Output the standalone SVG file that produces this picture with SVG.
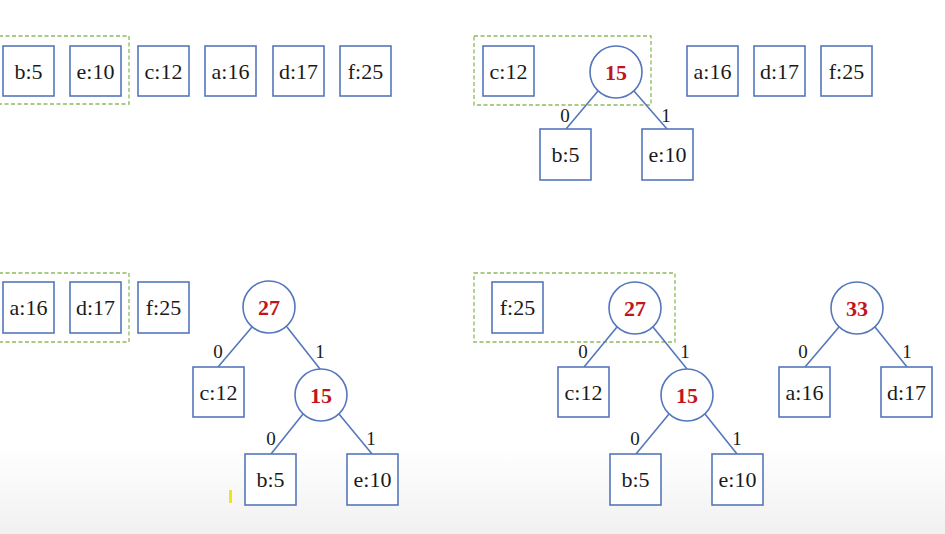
<svg xmlns="http://www.w3.org/2000/svg" width="945" height="534" viewBox="0 0 945 534">
<defs>
<linearGradient id="bg" x1="0" y1="0" x2="0" y2="1">
<stop offset="0" stop-color="#ffffff"/>
<stop offset="1" stop-color="#f1f1f1"/>
</linearGradient>
<style>
.box{fill:#ffffff;stroke:#5577bb;stroke-width:1.6}
.circ{fill:#ffffff;stroke:#5577bb;stroke-width:1.6}
.edge{stroke:#5577bb;stroke-width:1.6;fill:none}
.dash{fill:none;stroke:#8dbb5e;stroke-width:1.3;stroke-dasharray:4 2.5}
.t{font-family:"Liberation Serif","Times New Roman",serif;font-size:22px;fill:#1a1a1a;text-anchor:middle}
.n{font-family:"Liberation Serif","Times New Roman",serif;font-size:22px;font-weight:bold;fill:#c0161c;text-anchor:middle}
.l{font-family:"Liberation Serif","Times New Roman",serif;font-size:19px;fill:#1a1a1a;text-anchor:middle}
</style>
</defs>
<rect x="0" y="0" width="945" height="534" fill="#ffffff"/>
<rect x="0" y="445" width="945" height="89" fill="url(#bg)"/>

<g id="groups">
<rect class="dash" x="-1" y="36" width="130" height="68"/>
<rect class="dash" x="474" y="36" width="177" height="69"/>
<rect class="dash" x="-1" y="273" width="130" height="69"/>
<rect class="dash" x="474" y="273" width="201" height="69"/>
</g>

<g id="connectors">
<line class="edge" x1="598" y1="91" x2="566" y2="129"/>
<line class="edge" x1="634" y1="91" x2="667" y2="129"/>
<line class="edge" x1="252" y1="327" x2="218" y2="367"/>
<line class="edge" x1="287" y1="327" x2="320" y2="369"/>
<line class="edge" x1="303" y1="414" x2="271" y2="454"/>
<line class="edge" x1="339" y1="414" x2="372" y2="454"/>
<line class="edge" x1="617" y1="327" x2="584" y2="367"/>
<line class="edge" x1="653" y1="327" x2="687" y2="369"/>
<line class="edge" x1="669" y1="414" x2="636" y2="454"/>
<line class="edge" x1="705" y1="414" x2="737" y2="454"/>
<line class="edge" x1="839" y1="327" x2="805" y2="367"/>
<line class="edge" x1="875" y1="327" x2="907" y2="367"/>
<text class="l" x="565" y="122">0</text>
<text class="l" x="666" y="122">1</text>
<text class="l" x="218" y="358">0</text>
<text class="l" x="320" y="358">1</text>
<text class="l" x="271" y="445">0</text>
<text class="l" x="371" y="445">1</text>
<text class="l" x="583" y="358">0</text>
<text class="l" x="685" y="358">1</text>
<text class="l" x="635" y="445">0</text>
<text class="l" x="737" y="445">1</text>
<text class="l" x="803" y="358">0</text>
<text class="l" x="907" y="358">1</text>
</g>

<!-- Step 1 -->
<g id="s1-b5"><rect class="box" x="3" y="46" width="51" height="50"/><text class="t" x="28.5" y="78.5">b:5</text></g>
<g id="s1-e10"><rect class="box" x="70" y="46" width="51" height="50"/><text class="t" x="95.5" y="78.5">e:10</text></g>
<g id="s1-c12"><rect class="box" x="138" y="46" width="51" height="50"/><text class="t" x="163.5" y="78.5">c:12</text></g>
<g id="s1-a16"><rect class="box" x="205" y="46" width="51" height="50"/><text class="t" x="230.5" y="78.5">a:16</text></g>
<g id="s1-d17"><rect class="box" x="273" y="46" width="51" height="50"/><text class="t" x="298.5" y="78.5">d:17</text></g>
<g id="s1-f25"><rect class="box" x="340" y="46" width="51" height="50"/><text class="t" x="365.5" y="78.5">f:25</text></g>

<!-- Step 2 -->
<g id="s2-c12"><rect class="box" x="483" y="46" width="51" height="50"/><text class="t" x="508.5" y="78.5">c:12</text></g>
<g id="s2-n15"><circle class="circ" cx="616" cy="72" r="26"/><text class="n" x="616" y="79.5">15</text></g>
<g id="s2-a16"><rect class="box" x="687" y="46" width="51" height="50"/><text class="t" x="712.5" y="78.5">a:16</text></g>
<g id="s2-d17"><rect class="box" x="754" y="46" width="51" height="50"/><text class="t" x="779.5" y="78.5">d:17</text></g>
<g id="s2-f25"><rect class="box" x="821" y="46" width="51" height="50"/><text class="t" x="846.5" y="78.5">f:25</text></g>
<g id="s2-b5"><rect class="box" x="540" y="129" width="51" height="51"/><text class="t" x="565.5" y="162">b:5</text></g>
<g id="s2-e10"><rect class="box" x="642" y="129" width="51" height="51"/><text class="t" x="667.5" y="162">e:10</text></g>

<!-- Step 3 -->
<g id="s3-a16"><rect class="box" x="3" y="282" width="51" height="51"/><text class="t" x="28.5" y="315">a:16</text></g>
<g id="s3-d17"><rect class="box" x="70" y="282" width="51" height="51"/><text class="t" x="95.5" y="315">d:17</text></g>
<g id="s3-f25"><rect class="box" x="138" y="282" width="51" height="51"/><text class="t" x="163.5" y="315">f:25</text></g>
<g id="s3-n27"><circle class="circ" cx="269" cy="307" r="26"/><text class="n" x="269" y="314.5">27</text></g>
<g id="s3-c12"><rect class="box" x="193" y="367" width="51" height="50"/><text class="t" x="218.5" y="399.5">c:12</text></g>
<g id="s3-n15"><circle class="circ" cx="321" cy="395" r="26"/><text class="n" x="321" y="402.5">15</text></g>
<g id="s3-b5"><rect class="box" x="245" y="454" width="51" height="51"/><text class="t" x="270.5" y="487">b:5</text></g>
<g id="s3-e10"><rect class="box" x="347" y="454" width="51" height="51"/><text class="t" x="372.5" y="487">e:10</text></g>

<!-- Step 4 -->
<g id="s4-f25"><rect class="box" x="492" y="282" width="51" height="51"/><text class="t" x="517.5" y="315">f:25</text></g>
<g id="s4-n27"><circle class="circ" cx="635" cy="308" r="26"/><text class="n" x="635" y="315.5">27</text></g>
<g id="s4-c12"><rect class="box" x="558" y="367" width="51" height="50"/><text class="t" x="583.5" y="399.5">c:12</text></g>
<g id="s4-n15"><circle class="circ" cx="687" cy="395" r="26"/><text class="n" x="687" y="402.5">15</text></g>
<g id="s4-b5"><rect class="box" x="610" y="454" width="51" height="51"/><text class="t" x="635.5" y="487">b:5</text></g>
<g id="s4-e10"><rect class="box" x="712" y="454" width="51" height="51"/><text class="t" x="737.5" y="487">e:10</text></g>
<g id="s4-n33"><circle class="circ" cx="857" cy="308" r="26"/><text class="n" x="857" y="315.5">33</text></g>
<g id="s4-a16"><rect class="box" x="779" y="367" width="51" height="50"/><text class="t" x="804.5" y="399.5">a:16</text></g>
<g id="s4-d17"><rect class="box" x="881" y="367" width="51" height="50"/><text class="t" x="906.5" y="399.5">d:17</text></g>

<rect x="229" y="490" width="3" height="13" fill="#f2e318"/>
</svg>
